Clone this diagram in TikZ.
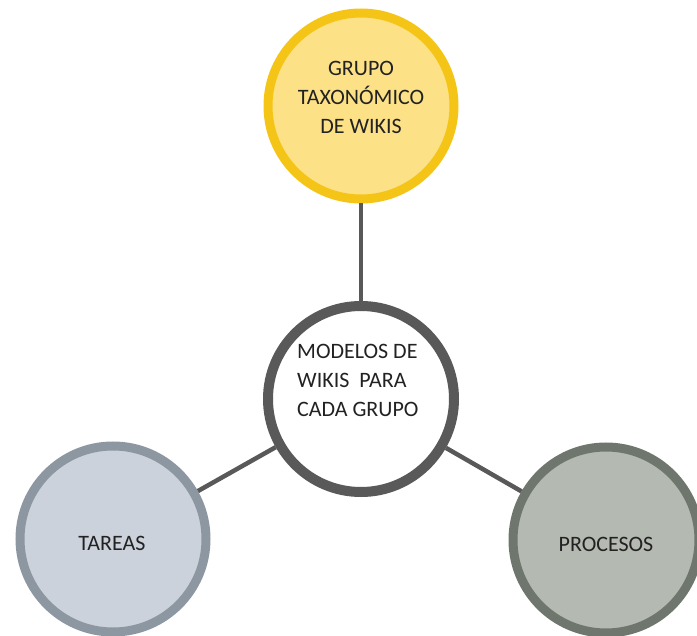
\documentclass[tikz,border=0pt]{standalone}
\usepackage{fontspec}
\setmainfont{Carlito}

\definecolor{yellowfill}{HTML}{FDE186}
\definecolor{yellowring}{HTML}{F4C517}
\definecolor{hubring}{HTML}{595959}
\definecolor{tareasfill}{HTML}{CCD2DB}
\definecolor{tareasring}{HTML}{8D97A2}
\definecolor{procfill}{HTML}{B4B9B1}
\definecolor{procring}{HTML}{6E766D}
\definecolor{linkgray}{HTML}{595959}
\definecolor{textgray}{HTML}{222222}

\begin{document}
\begin{tikzpicture}[x=1pt,y=-1pt,
  bubble/.style={circle, line width=9pt, inner sep=0pt, minimum size=186pt},
  link/.style={line width=4.5pt, draw=linkgray},
  caption/.style={font=\fontsize{22}{29}\selectfont, text=textgray, inner sep=0pt}
]
\useasboundingbox (0,0) rectangle (697,636);

% circles
\node[bubble, draw=yellowring, fill=yellowfill] (grupo) at (361,106) {};
\node[bubble, line width=10pt, minimum size=186pt, draw=hubring, fill=white] (hub) at (361,399) {};
\node[bubble, draw=tareasring, fill=tareasfill] (tareas) at (113,539) {};
\node[bubble, draw=procring, fill=procfill] (procesos) at (606,540) {};

% connectors from the hub to the three groups
\draw[link] (grupo) -- (hub);
\draw[link] (hub) -- (tareas);
\draw[link] (hub) -- (procesos);

% texts
\node[caption, align=center] (tgrupo) at (361,97)
  {GRUPO\\TAXONÓMICO\\DE WIKIS};
\node[caption, align=left, anchor=west] (thub) at (297,380)
  {MODELOS DE\\WIKIS\ \ PARA\\CADA GRUPO};
\node[caption] (ttareas) at (112,543) {TAREAS};
\node[caption] (tprocesos) at (606,544) {PROCESOS};
\end{tikzpicture}
\end{document}
